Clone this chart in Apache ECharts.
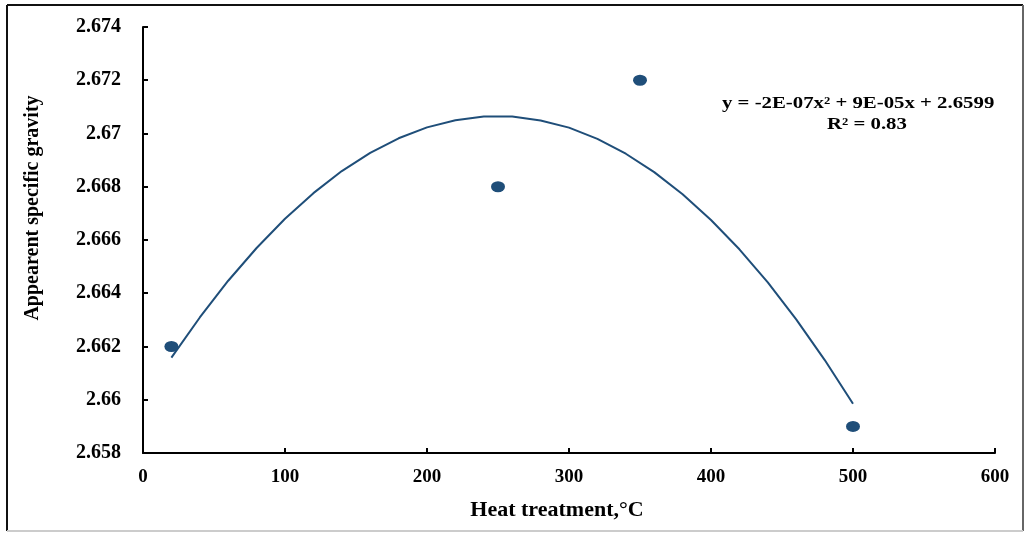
<!DOCTYPE html>
<html>
<head>
<meta charset="utf-8">
<title>Appearent specific gravity vs heat treatment</title>
<script src="https://cdn.jsdelivr.net/npm/echarts@6/dist/echarts.min.js"></script>
<style>
  html, body { margin: 0; padding: 0; background: #fff; }
  #chart { width: 1025px; height: 533px; }
</style>
</head>
<body>
<div id="chart"></div>
<script>
// Measured specific gravity at each heat-treatment temperature (°C)
const temperatures = [20, 250, 350, 500];
const gravity = [2.662, 2.668, 2.672, 2.659];

// Second-order polynomial trendline, sampled along the temperature range
const trendX = [20, 40, 60, 80, 100, 120, 140, 160, 180, 200, 220, 240, 260,
                280, 300, 320, 340, 360, 380, 400, 420, 440, 460, 480, 500];
const trendY = [2.66158, 2.66309, 2.66447, 2.66570, 2.66680, 2.66776, 2.66859,
                2.66927, 2.66982, 2.67023, 2.67050, 2.67064, 2.67064, 2.67049,
                2.67022, 2.66980, 2.66924, 2.66855, 2.66772, 2.66675, 2.66565,
                2.66441, 2.66302, 2.66150, 2.65985];

const equationText = 'y = -2E-07x² + 9E-05x + 2.6599';
const r2Text = 'R² = 0.83';

const serif = '"Liberation Serif", "Times New Roman", serif';
const markColor = '#1F4E79';

const chart = echarts.init(document.getElementById('chart'));
chart.setOption({
  backgroundColor: '#fff',
  animation: false,
  grid: { left: 143, top: 27, right: 30, bottom: 80 },
  xAxis: {
    type: 'value',
    min: 0, max: 600, interval: 100,
    name: 'Heat treatment,°C',
    nameLocation: 'middle',
    nameGap: 46,
    nameTextStyle: {
      fontFamily: serif, fontWeight: 'bold', fontSize: 22, color: '#000',
      padding: [0, 24, 0, 0]
    },
    axisLine: { lineStyle: { color: '#000', width: 2 } },
    axisTick: { inside: true, length: 5, lineStyle: { color: '#000', width: 2 } },
    axisLabel: { fontFamily: serif, fontWeight: 'bold', fontSize: 19, color: '#000', margin: 15 },
    splitLine: { show: false }
  },
  yAxis: {
    type: 'value',
    min: 2.658, max: 2.674, interval: 0.002,
    name: 'Appearent specific gravity',
    nameLocation: 'middle',
    nameGap: 100,
    nameTextStyle: {
      fontFamily: serif, fontWeight: 'bold', fontSize: 20, color: '#000',
      padding: [0, 0, 0, 64]
    },
    axisLine: { show: true, lineStyle: { color: '#000', width: 2 } },
    axisTick: { show: true, inside: true, length: 5, lineStyle: { color: '#000', width: 2 } },
    axisLabel: {
      fontFamily: serif, fontWeight: 'bold', fontSize: 20, color: '#000', margin: 22,
      formatter: v => String(parseFloat(v.toFixed(3)))
    },
    splitLine: { show: false }
  },
  series: [
    {
      type: 'line',
      data: trendX.map((x, i) => [x, trendY[i]]),
      smooth: false,
      symbol: 'none',
      lineStyle: { color: markColor, width: 2 },
      z: 2
    },
    {
      type: 'scatter',
      data: temperatures.map((x, i) => [x, gravity[i]]),
      symbol: 'circle',
      symbolSize: [14, 11],
      itemStyle: { color: markColor, opacity: 1 },
      z: 3
    }
  ],
  graphic: [
    {
      type: 'text', x: 722, y: 96, scaleX: 1.3,
      style: { text: equationText, font: 'bold 16px ' + serif, fill: '#000' }
    },
    {
      type: 'text', x: 827, y: 117, scaleX: 1.3,
      style: { text: r2Text, font: 'bold 16px ' + serif, fill: '#000' }
    },
    // frame around the figure
    { type: 'line', shape: { x1: 7, y1: 5, x2: 1023, y2: 5 }, style: { stroke: '#111', lineWidth: 2 } },
    { type: 'line', shape: { x1: 7, y1: 5, x2: 7, y2: 531 }, style: { stroke: '#111', lineWidth: 2 } },
    { type: 'line', shape: { x1: 1023, y1: 5, x2: 1023, y2: 531 }, style: { stroke: '#666', lineWidth: 2 } },
    { type: 'line', shape: { x1: 7, y1: 531, x2: 1023, y2: 531 }, style: { stroke: '#ccc', lineWidth: 2 } }
  ]
});
</script>
</body>
</html>
